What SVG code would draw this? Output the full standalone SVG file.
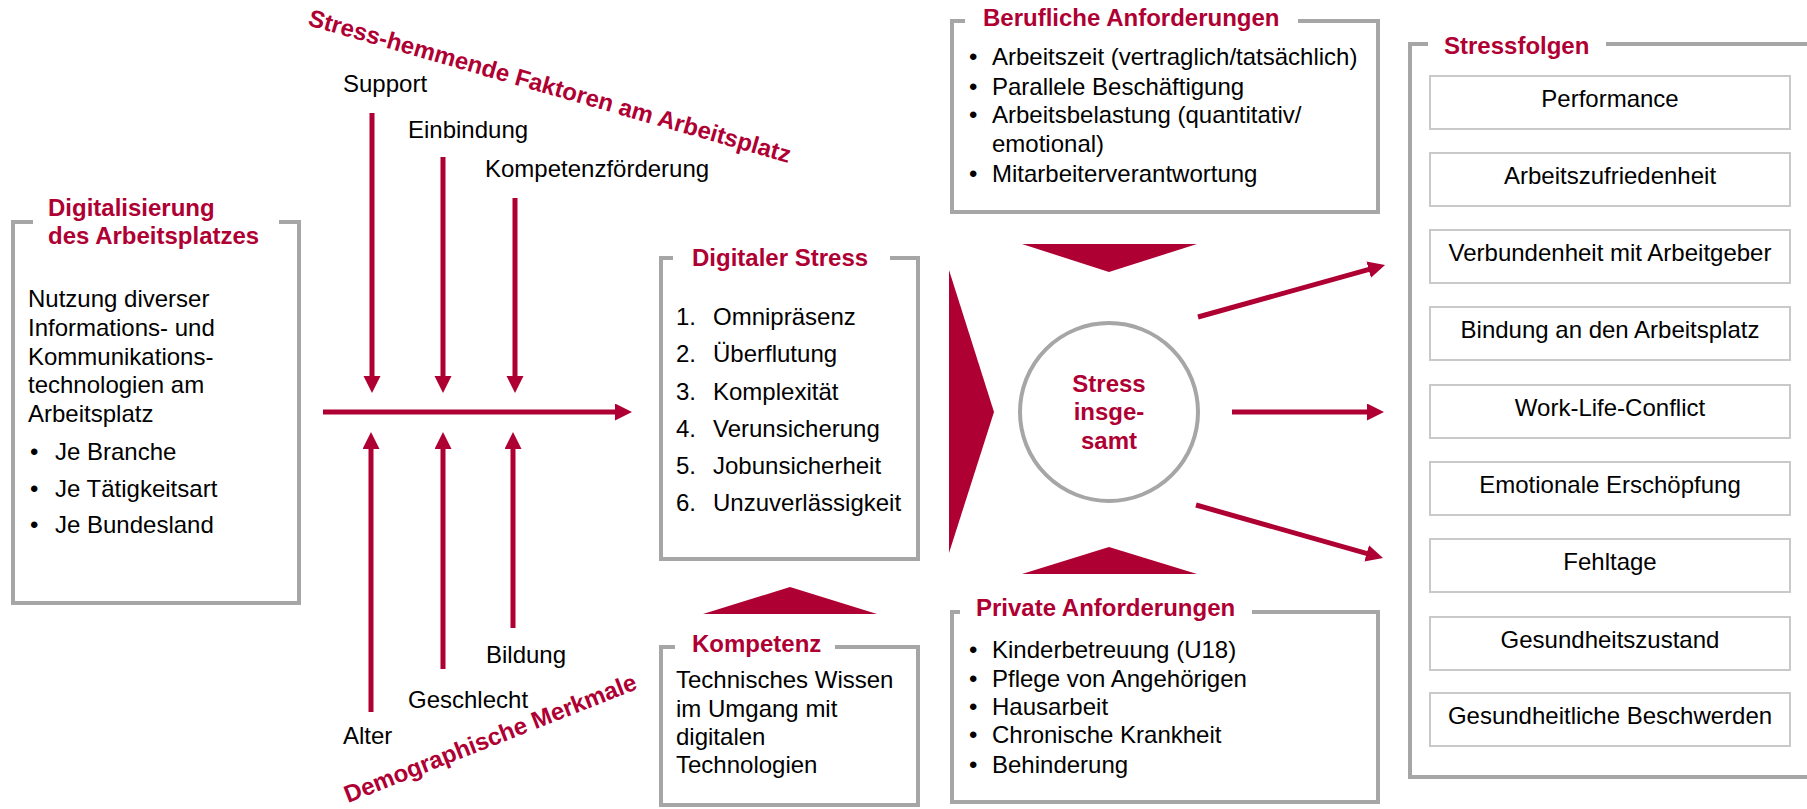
<svg xmlns="http://www.w3.org/2000/svg" width="1807" height="809" viewBox="0 0 1807 809">
<style>
text{font-family:"Liberation Sans",Arial,sans-serif;font-size:24px;fill:#000}
.t{font-weight:bold;fill:#AF0034}
.frame{fill:none;stroke:#A6A6A6;stroke-width:4}
.ibox{fill:#fff;stroke:#C9C9C9;stroke-width:2}
.c{text-anchor:middle}
.conn{stroke:#AF0034;stroke-width:5;fill:none;marker-end:url(#ah)}
.tri{fill:#AF0034}
</style>
<defs>
<marker id="ah" markerUnits="userSpaceOnUse" markerWidth="18" markerHeight="18" refX="7" refY="8.5" orient="auto">
<path d="M0,0 L17,8.5 L0,17 z" fill="#AF0034"/>
</marker>
</defs>
<rect width="1807" height="809" fill="#fff"/>

<g id="digitalisierung">
<path class="frame" d="M33,222 H13 V603 H299 V222 H279"/>
<text class="t" x="48" y="216">Digitalisierung</text>
<text class="t" x="48" y="244">des Arbeitsplatzes</text>
<text x="28" y="307">Nutzung diverser</text>
<text x="28" y="336">Informations- und</text>
<text x="28" y="365">Kommunikations-</text>
<text x="28" y="393">technologien am</text>
<text x="28" y="422">Arbeitsplatz</text>
<text x="30" y="460">•</text><text x="55" y="460">Je Branche</text>
<text x="30" y="497">•</text><text x="55" y="497">Je Tätigkeitsart</text>
<text x="30" y="533">•</text><text x="55" y="533">Je Bundesland</text>
</g>

<g id="stresshemmend">
<text class="t" transform="translate(307,25) rotate(16)" x="0" y="0">Stress-hemmende Faktoren am Arbeitsplatz</text>
<text x="343" y="92">Support</text>
<text x="408" y="138">Einbindung</text>
<text x="485" y="177">Kompetenzförderung</text>
</g>

<g id="demographie">
<text class="t" transform="translate(348,803) rotate(-21.5)" x="0" y="0">Demographische Merkmale</text>
<text x="486" y="663">Bildung</text>
<text x="408" y="708">Geschlecht</text>
<text x="343" y="744">Alter</text>
</g>

<g id="digitaler-stress">
<path class="frame" d="M673,258 H661 V559 H918 V258 H890"/>
<text class="t" x="692" y="266">Digitaler Stress</text>
<text x="676" y="325">1.</text><text x="713" y="325">Omnipräsenz</text>
<text x="676" y="362">2.</text><text x="713" y="362">Überflutung</text>
<text x="676" y="400">3.</text><text x="713" y="400">Komplexität</text>
<text x="676" y="437">4.</text><text x="713" y="437">Verunsicherung</text>
<text x="676" y="474">5.</text><text x="713" y="474">Jobunsicherheit</text>
<text x="676" y="511">6.</text><text x="713" y="511">Unzuverlässigkeit</text>
</g>

<g id="kompetenz">
<path class="frame" d="M675,647 H661 V805 H918 V647 H835"/>
<text class="t" x="692" y="652">Kompetenz</text>
<text x="676" y="688">Technisches Wissen</text>
<text x="676" y="717">im Umgang mit</text>
<text x="676" y="745">digitalen</text>
<text x="676" y="773">Technologien</text>
</g>

<g id="berufliche">
<path class="frame" d="M965,21 H952 V212 H1378 V21 H1298"/>
<text class="t" x="983" y="26">Berufliche Anforderungen</text>
<text x="969" y="65">•</text><text x="992" y="65">Arbeitszeit (vertraglich/tatsächlich)</text>
<text x="969" y="95">•</text><text x="992" y="95">Parallele Beschäftigung</text>
<text x="969" y="123">•</text><text x="992" y="123">Arbeitsbelastung (quantitativ/</text>
<text x="992" y="152">emotional)</text>
<text x="969" y="182">•</text><text x="992" y="182">Mitarbeiterverantwortung</text>
</g>

<g id="private">
<path class="frame" d="M960,612 H952 V802 H1378 V612 H1252"/>
<text class="t" x="976" y="616">Private Anforderungen</text>
<text x="969" y="658">•</text><text x="992" y="658">Kinderbetreuung (U18)</text>
<text x="969" y="687">•</text><text x="992" y="687">Pflege von Angehörigen</text>
<text x="969" y="715">•</text><text x="992" y="715">Hausarbeit</text>
<text x="969" y="743">•</text><text x="992" y="743">Chronische Krankheit</text>
<text x="969" y="773">•</text><text x="992" y="773">Behinderung</text>
</g>

<g id="stress-insgesamt">
<circle cx="1109" cy="412" r="89" fill="#fff" stroke="#A6A6A6" stroke-width="4"/>
<text class="t c" x="1109" y="392">Stress</text>
<text class="t c" x="1109" y="420">insge-</text>
<text class="t c" x="1109" y="449">samt</text>
</g>

<g id="triangles">
<polygon class="tri" points="949,270 994,412 949,553"/>
<polygon class="tri" points="1022,244 1197,244 1109,272"/>
<polygon class="tri" points="1022,574 1197,574 1109,547"/>
<polygon class="tri" points="703,614 877,614 790,587"/>
</g>

<g id="stressfolgen">
<path class="frame" d="M1428,44 H1410 V777 H1815 M1606,44 H1815"/>
<text class="t" x="1444" y="54">Stressfolgen</text>
<rect class="ibox" x="1430" y="76" width="360" height="53"/>
<text class="c" x="1610" y="107">Performance</text>
<rect class="ibox" x="1430" y="153" width="360" height="53"/>
<text class="c" x="1610" y="184">Arbeitszufriedenheit</text>
<rect class="ibox" x="1430" y="230" width="360" height="53"/>
<text class="c" x="1610" y="261">Verbundenheit mit Arbeitgeber</text>
<rect class="ibox" x="1430" y="307" width="360" height="53"/>
<text class="c" x="1610" y="338">Bindung an den Arbeitsplatz</text>
<rect class="ibox" x="1430" y="385" width="360" height="53"/>
<text class="c" x="1610" y="416">Work-Life-Conflict</text>
<rect class="ibox" x="1430" y="462" width="360" height="53"/>
<text class="c" x="1610" y="493">Emotionale Erschöpfung</text>
<rect class="ibox" x="1430" y="539" width="360" height="53"/>
<text class="c" x="1610" y="570">Fehltage</text>
<rect class="ibox" x="1430" y="617" width="360" height="53"/>
<text class="c" x="1610" y="648">Gesundheitszustand</text>
<rect class="ibox" x="1430" y="693" width="360" height="53"/>
<text class="c" x="1610" y="724">Gesundheitliche Beschwerden</text>
</g>

<g id="connectors">
<line class="conn" x1="372" y1="113" x2="372" y2="383"/>
<line class="conn" x1="443" y1="157" x2="443" y2="383"/>
<line class="conn" x1="515" y1="198" x2="515" y2="383"/>
<line class="conn" x1="371" y1="712" x2="371" y2="442"/>
<line class="conn" x1="443" y1="669" x2="443" y2="442"/>
<line class="conn" x1="513" y1="628" x2="513" y2="442"/>
<line class="conn" x1="323" y1="412" x2="622" y2="412"/>
<line class="conn" x1="1198" y1="317" x2="1375.4" y2="267.7"/>
<line class="conn" x1="1232" y1="412" x2="1374" y2="412"/>
<line class="conn" x1="1196" y1="505" x2="1373.4" y2="555.3"/>
</g>
</svg>
